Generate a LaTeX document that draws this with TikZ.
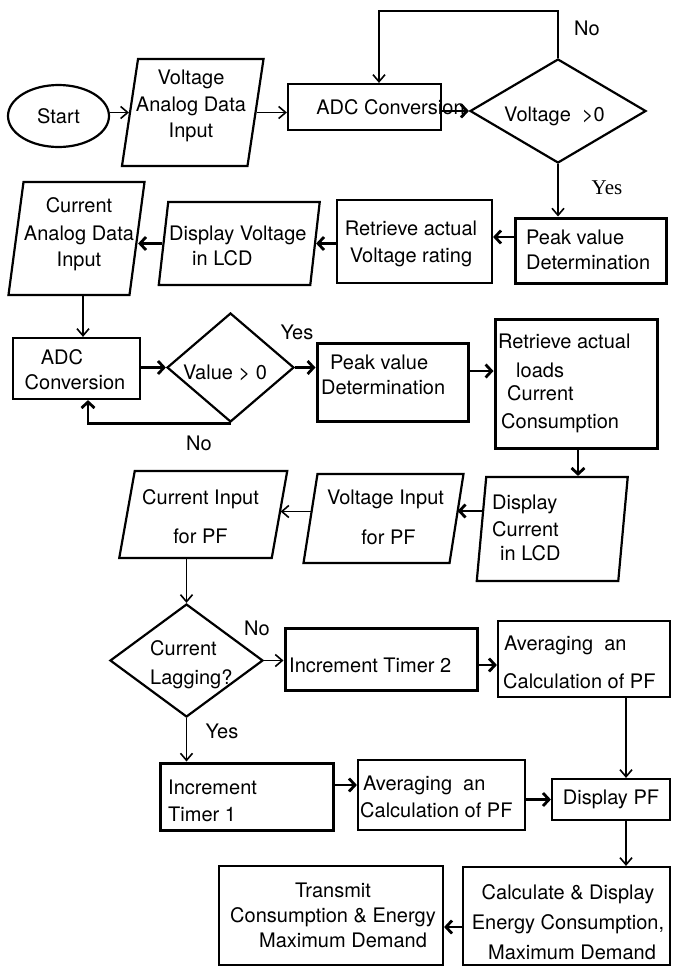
\documentclass[tikz,border=0pt]{standalone}
\usepackage{fontspec}
\setmainfont{TeX Gyre Heros}
\newfontfamily\tnr{Liberation Serif}
\usetikzlibrary{shapes.geometric, arrows.meta}
\begin{document}
\begin{tikzpicture}[x=1pt,y=-1pt,
  font=\fontsize{20}{26}\selectfont,
  box/.style={draw, line width=2.2pt, inner sep=0pt},
  bbox/.style={draw, line width=3pt, inner sep=0pt},
  txt/.style={inner sep=0pt, align=center},
  ltxt/.style={inner sep=0pt, align=left, anchor=west},
  arr/.style={line width=1.6pt, -{Straight Barb[length=7pt,width=12pt]}},
  tarr/.style={line width=2.8pt, -{Straight Barb[length=6pt,width=13pt]}},
]
\useasboundingbox (0,0) rectangle (675,967);

% ---- row 1
\node[box, ellipse, minimum width=101pt, minimum height=62pt] (start) at (58.5,116) {Start};
\node[box, xslant=0.150, minimum width=125.5pt, minimum height=107pt] (vin) at (192.75,112.5) {};
\node[txt] (vint) at (191,105.5) {Voltage\\[1pt]Analog Data\\Input};
\node[box, minimum width=153pt, minimum height=46pt] (adc1) at (364.5,107) {};
\node[txt] (adc1t) at (390.5,107) {ADC Conversion};
\node[box, diamond, minimum width=176pt, minimum height=104pt] (d1) at (558,111) {};
\node[txt] (d1t) at (554.5,116) {Voltage\hspace{0.55em}>0};
\node[txt] (no1) at (587,28) {No};
\node[txt, font=\tnr\fontsize{21}{26}\selectfont] (yes1) at (607,188) {Yes};

% ---- row 2
\node[bbox, minimum width=151pt, minimum height=65pt] (peak1) at (590.5,250.5) {};
\node[ltxt] (peak1t) at (526,249.5) {Peak value\\[-1pt]Determination};
\node[box, minimum width=155pt, minimum height=83pt] (retr1) at (414.5,241.5) {};
\node[txt] (retr1t) at (411,243.5) {Retrieve actual\\[1pt]Voltage rating};
\node[box, xslant=0.114, minimum width=151.5pt, minimum height=83pt] (dv) at (239.25,243.5) {};
\node[ltxt] (dvt) at (169,245.5) {Display Voltage\\[-1pt]\hspace*{23pt}in LCD};
\node[box, xslant=0.133, minimum width=121pt, minimum height=113pt] (cin) at (76.5,238.5) {};
\node[txt] (cint) at (79,234) {Current\\[2pt]Analog Data\\Input};

% ---- row 3
\node[box, minimum width=127pt, minimum height=61pt] (adc2) at (76.5,368.5) {};
\node[txt] (adc2t) at (75,369.5) {ADC\hspace*{26pt}\\[-1pt]Conversion};
\node[box, diamond, minimum width=127pt, minimum height=109pt] (d2) at (230.5,367.5) {};
\node[txt] (d2t) at (225,373) {Value > 0};
\node[txt] (yes2) at (297,332) {Yes};
\node[txt] (no2) at (199,443) {No};
\node[bbox, minimum width=151pt, minimum height=78pt] (peak2) at (392.5,382) {};
\node[ltxt] (peak2t) at (321,374.5) {\hspace*{9pt}Peak value\\[-1pt]Determination};
\node[bbox, minimum width=162pt, minimum height=129pt] (retr2) at (576,383.5) {};
\node[ltxt] (retr2t) at (498,383) {Retrieve actual\\[3pt]\hspace*{18pt}loads\\[-3pt]\hspace*{9pt}Current\\[2pt]\hspace*{3pt}Consumption};

% ---- row 4
\node[box, xslant=0.091, minimum width=141.5pt, minimum height=104pt] (dc) at (552.25,529) {};
\node[ltxt] (dct) at (492,527.5) {Display\\[1pt]Current\\[-2pt]\hspace*{8pt}in LCD};
\node[box, xslant=0.157, minimum width=146pt, minimum height=89pt] (vpf) at (383.5,518.5) {};
\node[txt] (vpft) at (385.5,517) {Voltage Input\\[14pt]\hspace*{6pt}for PF};
\node[box, xslant=0.178, minimum width=152.5pt, minimum height=87pt] (cpf) at (203.25,514.5) {};
\node[txt] (cpft) at (200.5,516.5) {Current Input\\[13pt]for PF};

% ---- row 5
\node[box, diamond, minimum width=153pt, minimum height=113pt] (d3) at (186.5,660.5) {};
\node[ltxt] (d3t) at (150,664.5) {Current\\[3pt]Lagging?};
\node[txt] (no3) at (257,628) {No};
\node[txt] (yes3) at (222,731) {Yes};
\node[bbox, minimum width=192pt, minimum height=62pt] (it2) at (381,659) {};
\node[ltxt] (it2t) at (289,665) {Increment Timer 2};
\node[box, minimum width=172pt, minimum height=76pt] (av1) at (584,659) {};
\node[ltxt] (av1t) at (503,662) {\hspace*{1pt}Averaging\ \ an\\[12pt]Calculation of PF};

% ---- row 6
\node[bbox, minimum width=173pt, minimum height=67pt] (it1) at (246.5,796.5) {};
\node[ltxt] (it1t) at (168,800.5) {Increment\\[1pt]Timer 1};
\node[box, minimum width=167pt, minimum height=70pt] (av2) at (441.5,795) {};
\node[ltxt] (av2t) at (360,796.5) {\hspace*{3pt}Averaging\ \ an\\[1pt]Calculation of PF};
\node[box, minimum width=118pt, minimum height=41pt] (dpf) at (611,799.5) {Display PF};

% ---- row 7
\node[box, minimum width=207pt, minimum height=98pt] (cd) at (566.5,916) {};
\node[txt] (cdt) at (568,922) {Calculate \& Display\\[4pt]Energy Consumption,\\[4pt]\hspace*{8pt}Maximum Demand};
\node[box, minimum width=224pt, minimum height=99pt] (tr) at (331,915.5) {};
\node[txt] (trt) at (333,915) {Transmit\\[-1pt]Consumption \& Energy\\[-1pt]\hspace*{20pt}Maximum Demand};

% ---- connectors
\draw[arr] (start.east |- vin.west) -- (vin.west);
\draw[arr] (vin.east) -- (vin.east -| adc1.west);
\draw[arr] (d1.north) -- ++(0,-47) -| ([xshift=14.5pt]adc1.north);
\draw[tarr] (adc1.east |- d1.west) -- (d1.west);
\draw[arr] (d1.south) -- (d1.south |- peak1.north);
\draw[tarr] ([yshift=13.5pt]peak1.west) -- ([yshift=13.5pt]peak1.west -| retr1.east);
\draw[tarr] (retr1.west |- dv.east) -- (dv.east);
\draw[tarr] (dv.west) -- (dv.west -| cin.east);
\draw[arr] ([xshift=6.5pt]adc2.north |- cin.south) -- ([xshift=6.5pt]adc2.north);
\draw[tarr] (adc2.east |- d2.west) -- (d2.west);
\draw[tarr] (d2.south) -| ([xshift=11.5pt]adc2.south);
\draw[tarr] (d2.east) -- (d2.east -| peak2.west);
\draw[tarr] ([yshift=11pt]peak2.east) -- ([yshift=11pt]peak2.east -| retr2.west);
\draw[tarr] ([xshift=2pt]retr2.south) -- ([xshift=2pt]retr2.south |- dc.north);
\draw[tarr] ([xshift=1.6pt,yshift=18pt]dc.west) -- ([yshift=18pt]dc.west -| vpf.east);
\draw[arr] ([xshift=1.1pt,yshift=7pt]vpf.west) -- ([yshift=7pt]vpf.west -| cpf.east);
\draw[arr] (d3.north |- cpf.south) -- (d3.north);
\draw[arr] (d3.east) -- (d3.east -| it2.west);
\draw[arr] (d3.south) -- (d3.south |- it1.north);
\draw[tarr] ([yshift=-6pt]it2.east) -- ([yshift=-6pt]it2.east -| av1.west);
\draw[arr] ([xshift=15pt]dpf.north |- av1.south) -- ([xshift=15pt]dpf.north);
\draw[tarr] ([yshift=11.5pt]it1.east) -- ([yshift=11.5pt]it1.east -| av2.west);
\draw[tarr] (av2.east |- dpf.west) -- (dpf.west);
\draw[arr] ([xshift=15pt]dpf.south) -- ([xshift=15pt]dpf.south |- cd.north);
\draw[tarr] ([yshift=-11pt]cd.west) -- ([yshift=-11pt]cd.west -| tr.east);
\end{tikzpicture}
\end{document}
